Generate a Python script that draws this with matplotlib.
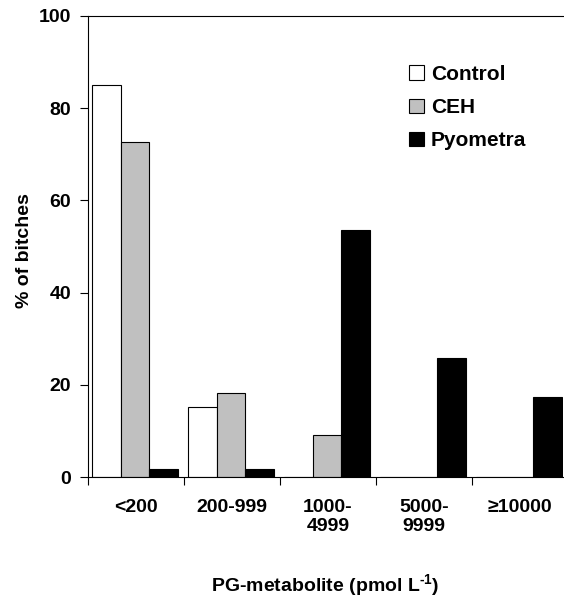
import matplotlib.pyplot as plt
import numpy as np

plt.rcParams['font.family'] = ['Liberation Sans', 'DejaVu Sans']
plt.rcParams['font.weight'] = 'bold'
plt.rcParams['mathtext.fontset'] = 'custom'
plt.rcParams['mathtext.rm'] = 'Liberation Sans:bold'
plt.rcParams['mathtext.bf'] = 'Liberation Sans:bold'

categories = ['<200', '200-999', '1000-\n4999', '5000-\n9999', '\u226510000']
control = [85.0, 15.2, 0, 0, 0]
ceh = [72.7, 18.2, 9.1, 0, 0]
pyometra = [1.8, 1.8, 53.6, 25.9, 17.3]

fig = plt.figure(figsize=(5.64, 6.01), dpi=100)
ax = fig.add_axes([88/564, 1-477/601, 475/564, (477-16)/601])

x = np.arange(len(categories))
w = 0.3
ax.bar(x + 0.04, control, w, align='edge', color='white', edgecolor='black', linewidth=0.8, label='Control')
ax.bar(x + 0.34, ceh, w, align='edge', color='#c0c0c0', edgecolor='black', linewidth=0.8, label='CEH')
ax.bar(x + 0.64, pyometra, w, align='edge', color='black', edgecolor='black', linewidth=0.8, label='Pyometra')

ax.set_xlim(0, 475/96)
ax.set_ylim(0, 100)
ax.set_yticks([0, 20, 40, 60, 80, 100])
ax.set_yticklabels(['0', '20', '40', '60', '80', '100'], fontsize=14, fontweight='bold')
ax.set_xticks(x)
ax.set_xticklabels([])
ax.set_xticks(x + 0.5, minor=True)
ax.set_xticklabels(categories, minor=True, fontsize=14, fontweight='bold', va='top', linespacing=1.1)
ax.tick_params(axis='x', which='minor', length=0, pad=16)
ax.tick_params(axis='x', which='major', length=6, direction='out')
ax.tick_params(axis='y', length=6, direction='out', pad=6)

ax.spines['right'].set_visible(False)
for s in ['left', 'bottom', 'top']:
    ax.spines[s].set_linewidth(0.8)

fig.text(25/564, 1-251/601, '% of bitches', rotation=90, ha='center', va='center',
         fontsize=14, fontweight='bold')
fig.text(325/564, 1-586/601, 'PG-metabolite (pmol L$^{\\text{-1}}$)', ha='center', va='center',
         fontsize=14, fontweight='bold')

ax.legend(loc='upper left', bbox_to_anchor=((409-88)/475, (477-65)/461), frameon=False,
          handlelength=0.7, handleheight=0.7, handletextpad=0.35, labelspacing=0.68,
          borderpad=0, borderaxespad=0, prop={'weight': 'bold', 'size': 15})

fig.savefig('out.png', dpi=100)
